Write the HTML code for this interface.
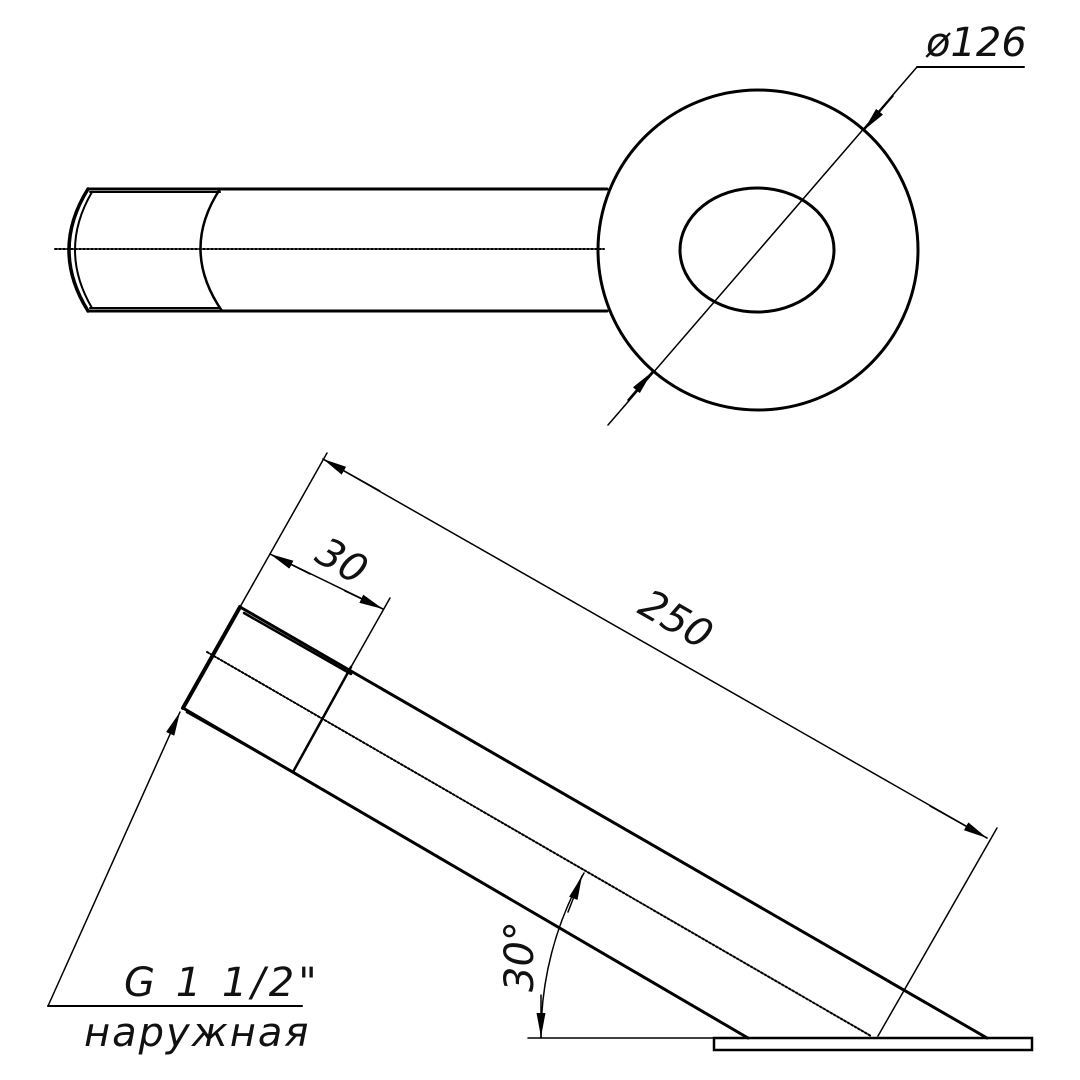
<!DOCTYPE html>
<html><head><meta charset="utf-8"><style>
html,body{margin:0;padding:0;background:#fff}
svg{display:block}
text{font-family:"DejaVu Sans","Liberation Sans",sans-serif;font-style:italic;fill:#111}
</style></head><body>
<svg width="1080" height="1080" viewBox="0 0 1080 1080" xmlns="http://www.w3.org/2000/svg">
<defs>
<marker id="ar" viewBox="0 0 24 9" refX="24" refY="4.5" markerWidth="24" markerHeight="9" markerUnits="userSpaceOnUse" orient="auto">
<path d="M0,0 L24,4.5 L0,9 Z" fill="#000"/>
</marker>
</defs>
<g fill="none" stroke="#000" stroke-linecap="round">
<line x1="88" y1="189" x2="607" y2="189" stroke-width="3"/>
<line x1="88" y1="311" x2="607" y2="311" stroke-width="3"/>
<line x1="90" y1="192" x2="220" y2="192" stroke-width="2"/>
<line x1="90" y1="308" x2="220" y2="308" stroke-width="2"/>
<path d="M88,189 Q50,250 88,311" stroke-width="3.5"/>
<path d="M92,192 Q58,250 92,308" stroke-width="2"/>
<path d="M220,189 Q180,250 222,311" stroke-width="2.5"/>
<line x1="55" y1="249" x2="604" y2="249" stroke-width="2" stroke-dasharray="2,2"/>
<circle cx="758" cy="250" r="160" stroke-width="3"/>
<ellipse cx="757" cy="250" rx="77" ry="62" stroke-width="3"/>
<line x1="608" y1="425" x2="917" y2="67" stroke-width="1.5"/>
<line x1="917" y1="67" x2="1024" y2="67" stroke-width="2"/>
<line x1="893" y1="96" x2="864" y2="130" stroke-width="1.5" marker-end="url(#ar)"/>
<line x1="628" y1="400" x2="652" y2="372" stroke-width="1.5" marker-end="url(#ar)"/>
<line x1="240" y1="607" x2="987" y2="1038" stroke-width="3"/>
<line x1="183" y1="708" x2="748" y2="1038" stroke-width="3"/>
<line x1="240" y1="607" x2="183" y2="708" stroke-width="4"/>
<line x1="244" y1="613" x2="351" y2="674" stroke-width="2.5"/>
<line x1="187" y1="712" x2="293" y2="772" stroke-width="2.5"/>
<line x1="351" y1="667" x2="293" y2="772" stroke-width="2.5"/>
<line x1="207" y1="652" x2="871" y2="1036" stroke-width="2" stroke-dasharray="2,2"/>
<rect x="714" y="1038" width="318" height="12" stroke-width="2.5"/>
<line x1="528" y1="1038" x2="714" y2="1038" stroke-width="1.5"/>
<line x1="240" y1="607" x2="327" y2="453" stroke-width="1.5"/>
<line x1="878" y1="1036" x2="997" y2="828" stroke-width="1.5"/>
<line x1="380" y1="491" x2="323" y2="459" stroke-width="1.5" marker-end="url(#ar)"/>
<line x1="323" y1="459" x2="987" y2="838" stroke-width="1.5"/>
<line x1="930" y1="806" x2="987" y2="838" stroke-width="1.5" marker-end="url(#ar)"/>
<line x1="351" y1="667" x2="390" y2="598" stroke-width="1.5"/>
<line x1="270" y1="554" x2="383" y2="609" stroke-width="1.5"/>
<line x1="310" y1="574" x2="270" y2="554" stroke-width="1.5" marker-end="url(#ar)"/>
<line x1="345" y1="591" x2="383" y2="609" stroke-width="1.5" marker-end="url(#ar)"/>
<path d="M541,1038 A331,331 0 0 1 584,873" stroke-width="1.5"/>
<line x1="541" y1="995" x2="541" y2="1037" stroke-width="1.5" marker-end="url(#ar)"/>
<line x1="568" y1="912" x2="582" y2="876" stroke-width="1.5" marker-end="url(#ar)"/>
<line x1="48" y1="1006" x2="180" y2="712" stroke-width="1.5" marker-end="url(#ar)"/>
<line x1="48" y1="1006" x2="302" y2="1006" stroke-width="2"/>
</g>
<text x="926" y="56" font-size="40">ø126</text>
<text x="0" y="0" font-size="40" transform="translate(636,612) rotate(30)">250</text>
<text x="0" y="0" font-size="40" transform="translate(313,560) rotate(30)">30</text>
<text x="0" y="0" font-size="40" transform="translate(533,992) rotate(-90)">30°</text>
<text x="124" y="996" font-size="40" letter-spacing="4">G 1 1/2"</text>
<text x="84" y="1046" font-size="40" letter-spacing="2">наружная</text>
</svg>
</body></html>
